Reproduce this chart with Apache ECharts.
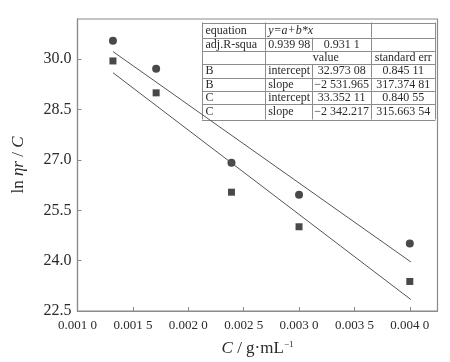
<!DOCTYPE html>
<html><head><meta charset="utf-8">
<script src="https://cdn.jsdelivr.net/npm/echarts@6/dist/echarts.min.js"></script>
<style>html,body{margin:0;padding:0;background:#fff}#c{width:450px;height:362px}</style>
</head><body><div id="c"></div>
<script>
// ---- data ----
const xValues = [0.00132, 0.00171, 0.00239, 0.0030, 0.0040];
const circleValues = [30.55, 29.72, 26.92, 25.96, 24.51];
const squareValues = [29.95, 29.00, 26.04, 25.01, 23.38];
const fitUpperX = [0.00132, 0.00401];
const fitUpperY = [30.23, 23.96];
const fitLowerX = [0.00132, 0.00401];
const fitLowerY = [29.60, 22.84];
const xTickLabels = ['0.001 0','0.001 5','0.002 0','0.002 5','0.003 0','0.003 5','0.004 0'];
const yTickLabels = ['22.5','24.0','25.5','27.0','28.5','30.0'];
const tableRows = [
  ['equation', 'y=a+b*x', '', ''],
  ['adj.R-squa', '0.939 98', '0.931 1', ''],
  ['', '', 'value', 'standard err'],
  ['B', 'intercept', '32.973 08', '0.845 11'],
  ['B', 'slope', '\u22122 531.965', '317.374 81'],
  ['C', 'intercept', '33.352 11', '0.840 55'],
  ['C', 'slope', '\u22122 342.217', '315.663 54']
];

const SERIF = '"Liberation Serif","Times New Roman",serif';
const TXT = '#2a2a2a';
const AX = '#8a8a8a';

// ---- table layout ----
const tL = 202, tR = 435.5;
const colX = [202, 264.7, 312.3, 371, 435.5];
const rowY = [22.5, 37.5, 50.5, 64, 77.5, 90.5, 104, 119.5];
const graphics = [];
function ln(x1,y1,x2,y2){graphics.push({type:'line',silent:true,shape:{x1,y1,x2,y2},style:{stroke:'#8c8c8c',lineWidth:1}});}
rowY.forEach(y=>ln(tL, Math.round(y)+0.5, tR, Math.round(y)+0.5));
ln(tL+0.5, rowY[0], tL+0.5, rowY[7]);
ln(tR, rowY[0], tR, rowY[7]);
for (let r=0;r<7;r++){
  const y1=rowY[r], y2=rowY[r+1];
  ln(Math.round(colX[1])+0.5,y1,Math.round(colX[1])+0.5,y2);
  ln(Math.round(colX[3])+0.5,y1,Math.round(colX[3])+0.5,y2);
  if (r!==0 && r!==2) ln(Math.round(colX[2])+0.5,y1,Math.round(colX[2])+0.5,y2);
}
tableRows.forEach((row,r)=>{
  const cy=(rowY[r]+rowY[r+1])/2+0.5;
  row.forEach((t,c)=>{
    if(!t) return;
    let x, align='left';
    if(c===0){x=colX[0]+3.5;}
    else if(c===1){x=colX[1]+3.5;}
    else if(c===2){ if(r===2){x=colX[2]+0.5;} else {x=(colX[2]+colX[3])/2; align='center';} }
    else {x=(colX[3]+colX[4])/2; align='center';}
    const italic = (r===0 && c===1);
    graphics.push({type:'text',silent:true,style:{text:t,x:x,y:cy,align:align,verticalAlign:'middle',
      font:(italic?'italic ':'')+'12px '+SERIF,fill:TXT}});
  });
});

const chart = echarts.init(document.getElementById('c'), null, {renderer:'canvas'});
chart.setOption({
  backgroundColor:'#fff',
  animation:false,
  grid:{left:77.5,right:12.5,top:19,bottom:51,show:true,borderColor:AX,borderWidth:1.2},
  xAxis:{
    type:'value',min:0.001,max:0.00425,interval:0.0005,
    axisLine:{show:true,onZero:false,lineStyle:{color:AX,width:1.2}},
    axisTick:{show:true,inside:true,length:4,lineStyle:{color:AX}},
    splitLine:{show:false},
    axisLabel:{showMaxLabel:false,margin:8,color:TXT,fontFamily:SERIF,fontSize:13,
      formatter:v=>{const i=Math.round((v-0.001)/0.0005);return xTickLabels[i]||'';}},
    name:'{i|C}{n| / g\u00b7mL}{s|\u22121}',
    nameLocation:'middle',nameGap:29,
    nameTextStyle:{rich:{
      i:{fontFamily:SERIF,fontStyle:'italic',fontSize:17,color:TXT},
      n:{fontFamily:SERIF,fontSize:17,color:TXT},
      s:{fontFamily:SERIF,fontSize:9,color:TXT,verticalAlign:'top',padding:[0,0,8,0]}}}
  },
  yAxis:{
    type:'value',min:22.5,max:31.2,interval:1.5,
    axisLine:{show:true,onZero:false,lineStyle:{color:AX,width:1.2}},
    axisTick:{show:true,inside:true,length:4,lineStyle:{color:AX}},
    splitLine:{show:false},
    axisLabel:{showMaxLabel:false,margin:6,color:TXT,fontFamily:SERIF,fontSize:16,
      formatter:v=>{const i=Math.round((v-22.5)/1.5);return yTickLabels[i]||'';}},
    name:'{n|ln }{i|\u03b7r}{n| / }{i|C}',
    nameLocation:'middle',nameRotate:90,nameGap:50,
    nameTextStyle:{rich:{
      i:{fontFamily:SERIF,fontStyle:'italic',fontSize:17,color:TXT},
      n:{fontFamily:SERIF,fontSize:17,color:TXT}}}
  },
  series:[
    {type:'line',data:fitUpperX.map((x,i)=>[x,fitUpperY[i]]),symbol:'none',lineStyle:{color:'#555',width:1},silent:true},
    {type:'line',data:fitLowerX.map((x,i)=>[x,fitLowerY[i]]),symbol:'none',lineStyle:{color:'#555',width:1},silent:true},
    {type:'scatter',data:xValues.map((x,i)=>[x,circleValues[i]]),symbol:'circle',symbolSize:8,itemStyle:{color:'#1c1c1c'}},
    {type:'scatter',data:xValues.map((x,i)=>[x,squareValues[i]]),symbol:'rect',symbolSize:7,itemStyle:{color:'#1c1c1c'}}
  ],
  graphic:graphics
});
</script></body></html>
